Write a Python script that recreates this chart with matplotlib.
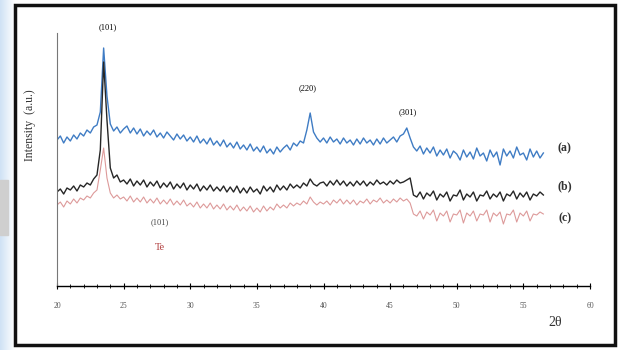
import matplotlib
matplotlib.use("Agg")
import matplotlib.pyplot as plt
import numpy as np
from matplotlib.patches import Rectangle
from matplotlib.ticker import MultipleLocator

plt.rcParams["font.family"] = ["Liberation Serif", "DejaVu Serif"]

# scan grid (2theta, step 0.25 deg)
two_theta = np.arange(20, 56.75, 0.25)

# intensities (a.u.)
sample_a = [
    146, 150, 143, 149, 145, 151, 147, 153, 150, 156, 153, 159,
    161, 174, 238, 190, 162, 155, 159, 153, 157, 160, 153, 158,
    152, 157, 150, 155, 151, 156, 149, 153, 148, 154, 150, 146,
    152, 147, 151, 145, 149, 144, 150, 143, 147, 142, 148, 141,
    145, 140, 146, 139, 143, 138, 144, 137, 141, 136, 142, 135,
    139, 134, 140, 133, 137, 132, 139, 134, 138, 141, 136, 143,
    140, 145, 143, 156, 173, 154, 148, 144, 148, 143, 149, 144,
    147, 142, 148, 143, 146, 141, 147, 142, 148, 143, 146, 141,
    147, 142, 148, 143, 146, 149, 144, 150, 152, 158, 148, 139,
    135, 140, 132, 138, 133, 139, 130, 136, 131, 137, 128, 135,
    132, 126, 136, 129, 134, 127, 138, 130, 133, 125, 136, 129,
    134, 121, 137, 130, 135, 128, 139, 131, 133, 126, 137, 129,
    135, 128, 133,
]
sample_b = [
    94, 97, 92, 98, 96, 100, 95, 101, 99, 103, 101, 107,
    111, 136, 224, 166, 118, 108, 111, 104, 106, 102, 107, 100,
    105, 101, 106, 99, 104, 100, 105, 98, 103, 99, 104, 97,
    102, 98, 103, 96, 101, 97, 102, 95, 100, 96, 101, 95,
    99, 95, 100, 94, 99, 94, 100, 93, 98, 93, 99, 94,
    97, 92, 100, 95, 99, 94, 101, 96, 100, 96, 102, 98,
    101, 98, 103, 100, 107, 102, 100, 103, 104, 100, 105, 101,
    106, 101, 105, 100, 104, 100, 105, 101, 105, 100, 104, 101,
    106, 102, 104, 101, 105, 102, 106, 103, 104, 106, 108, 91,
    89, 94, 87, 93, 90, 95, 86, 92, 89, 94, 85, 91,
    90, 96, 86, 92, 89, 94, 85, 91, 90, 95, 87, 92,
    89, 94, 85, 92, 90, 95, 87, 93, 89, 94, 86, 92,
    90, 94, 91,
]
sample_c = [
    81, 84, 79, 85, 82, 87, 83, 88, 86, 90, 88, 93,
    96, 116, 138, 108, 93, 88, 91, 87, 89, 85, 90, 84,
    88, 84, 89, 83, 87, 83, 88, 82, 86, 82, 87, 81,
    85, 81, 86, 80, 83, 79, 84, 78, 82, 78, 83, 77,
    81, 77, 82, 76, 80, 76, 81, 75, 79, 75, 80, 74,
    78, 74, 80, 75, 79, 76, 82, 78, 81, 78, 83, 80,
    83, 81, 85, 82, 89, 84, 81, 84, 82, 85, 81, 86,
    83, 87, 82, 86, 82, 86, 81, 85, 83, 87, 82, 86,
    84, 88, 83, 86, 83, 87, 84, 88, 85, 87, 83, 72,
    70, 75, 67, 74, 71, 76, 65, 73, 70, 75, 64, 72,
    71, 76, 63, 73, 70, 75, 65, 72, 71, 76, 64, 73,
    70, 74, 62, 72, 71, 76, 64, 73, 70, 75, 65, 72,
    71, 74, 72,
]

series_labels = ["(a)", "(b)", "(c)"]
series_colors = ["#3f7cc4", "#262626", "#dd9a9a"]
series_widths = [1.0, 1.0, 0.8]

fig = plt.figure(figsize=(6.24, 3.5), dpi=100)

# slide background leftovers on the far left
bg = fig.add_axes([0, 0, 15 / 624, 1])
grad = np.linspace(1, 0, 50).reshape(1, -1)
bg.imshow(grad, aspect="auto", cmap=matplotlib.colors.LinearSegmentedColormap.from_list(
    "bl", ["#ffffff", "#cfe2f5"]), extent=[0, 1, 0, 1])
bg.add_patch(Rectangle((0, 1 - 235 / 350), 0.55, 55 / 350, color="#cfcfcf"))
bg.set_xlim(0, 1)
bg.set_ylim(0, 1)
bg.axis("off")

# outer black frame
fig.patches.append(Rectangle((15 / 624, 5 / 350), 600 / 624, 340 / 350,
                             transform=fig.transFigure, fill=False,
                             ec="#111111", lw=2.5))

ax = fig.add_axes([57 / 624, 1 - 286 / 350, 533 / 624, 253 / 350])

for ys, col, lw in zip([sample_a, sample_b, sample_c], series_colors, series_widths):
    ax.plot(two_theta, ys, color=col, lw=lw)

ax.set_xlim(20, 60)
ax.set_ylim(0, 253)
ax.xaxis.set_major_locator(MultipleLocator(5))
ax.xaxis.set_minor_locator(MultipleLocator(1))
ax.tick_params(axis="x", which="major", direction="inout", length=5,
               width=0.8, labelsize=5.5, labelcolor="#555555", pad=9)
ax.tick_params(axis="x", which="minor", direction="inout", length=3, width=0.6)
ax.set_yticks([])
for s in ["top", "right"]:
    ax.spines[s].set_visible(False)
ax.spines["left"].set_color("#777777")
ax.spines["left"].set_linewidth(0.8)
ax.spines["bottom"].set_linewidth(1.0)

# peak indices
ax.text(23.8, 259, "(101)", fontsize=6, ha="center", va="center")
ax.text(38.8, 198, "(220)", fontsize=6, ha="center", va="center")
ax.text(46.3, 174, "(301)", fontsize=6, ha="center", va="center")
ax.text(27.7, 64, "(101)", fontsize=6, ha="center", va="center", color="#444444")
ax.text(27.7, 38, "Te", fontsize=7.5, ha="center", va="center", color="#b03a3a")

# series labels
for lab, y in zip(series_labels, [138, 100, 68]):
    ax.text(58.1, y, lab, fontsize=8.5, ha="center", va="center", weight="bold",
            color="#333333", clip_on=False)

fig.text(555 / 624, 1 - 322 / 350, "2θ", fontsize=10, ha="center", va="center",
         color="#333333")
fig.text(30 / 624, 1 - 125 / 350, "Intensity  (a.u.)", fontsize=8.5,
         rotation=90, ha="center", va="center", color="#333333")

fig.savefig("out.png", dpi=100)
